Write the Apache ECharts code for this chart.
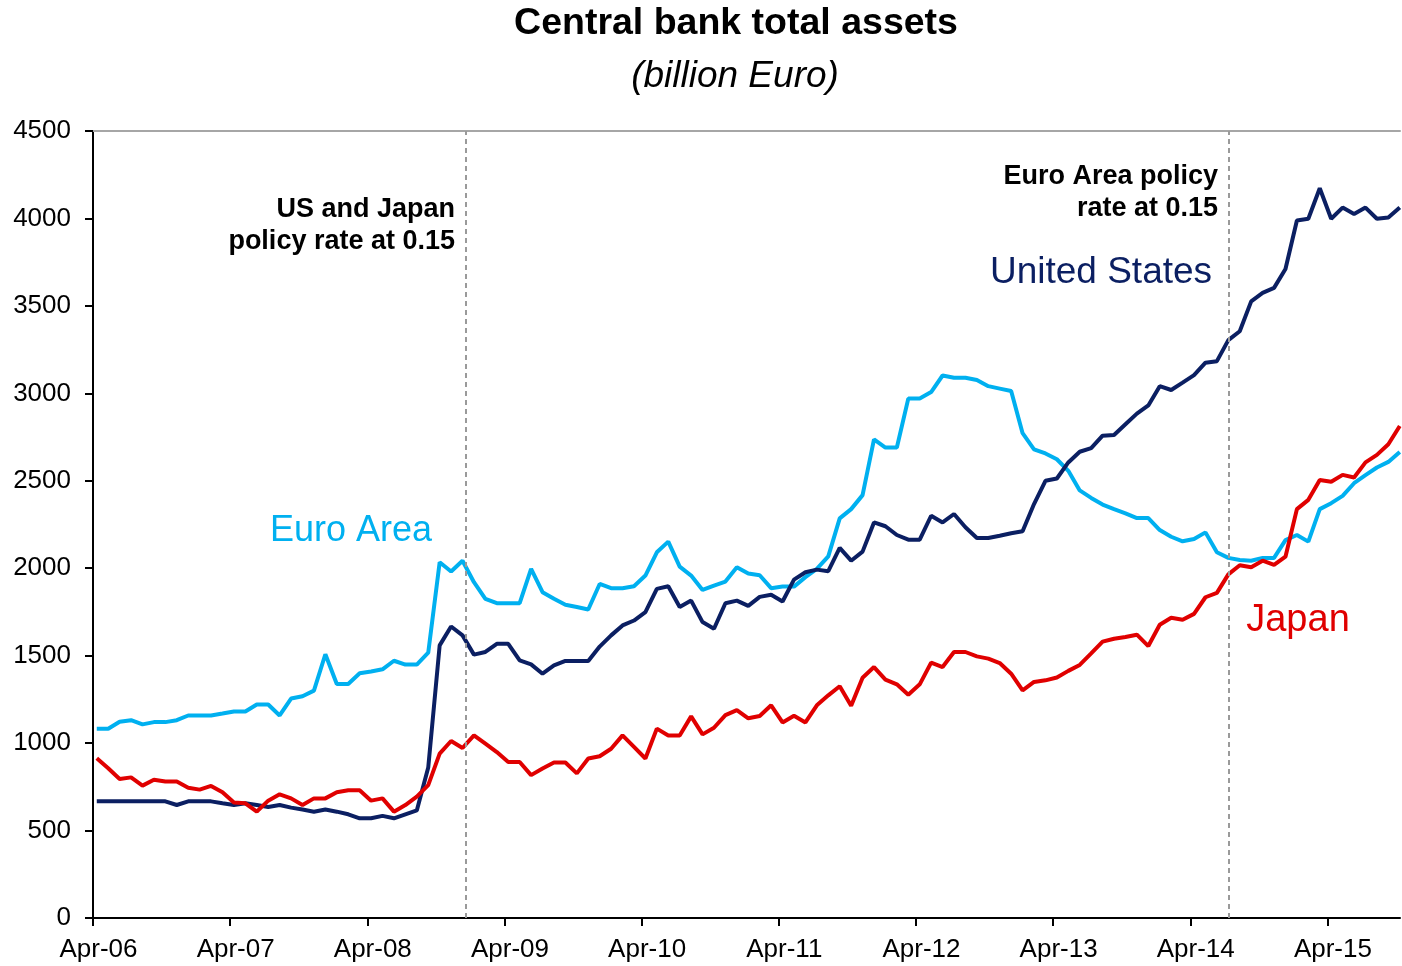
<!DOCTYPE html>
<html>
<head>
<meta charset="utf-8">
<title>Central bank total assets</title>
<script src="https://cdn.jsdelivr.net/npm/echarts@6/dist/echarts.min.js"></script>
<style>
  html, body { margin: 0; padding: 0; background: #ffffff; }
  #chart { width: 1402px; height: 966px; }
</style>
</head>
<body>
<div id="chart"></div>
<script>
// Monthly balance sheet totals, billion Euro, starting April 2006
const tickLabels = ['Apr-06', 'Apr-07', 'Apr-08', 'Apr-09', 'Apr-10', 'Apr-11', 'Apr-12', 'Apr-13', 'Apr-14', 'Apr-15'];

const euroArea = [
  1082, 1082, 1122, 1131, 1107, 1120, 1120, 1131, 1158, 1158,
  1158, 1169, 1181, 1181, 1221, 1221, 1158, 1255, 1268, 1300,
  1508, 1338, 1338, 1399, 1409, 1422, 1471, 1449, 1449, 1517,
  2034, 1981, 2043, 1920, 1825, 1800, 1800, 1800, 1996, 1863,
  1825, 1791, 1778, 1764, 1910, 1886, 1886, 1897, 1958, 2091,
  2152, 2009, 1958, 1876, 1901, 1924, 2006, 1970, 1960, 1886,
  1895, 1895, 1949, 1996, 2068, 2285, 2338, 2418, 2737, 2690,
  2690, 2970, 2970, 3007, 3102, 3089, 3089, 3076, 3041, 3027,
  3013, 2772, 2680, 2656, 2623, 2557, 2445, 2402, 2364, 2338,
  2314, 2287, 2287, 2218, 2180, 2154, 2167, 2205, 2091, 2059,
  2047, 2043, 2059, 2059, 2161, 2190, 2152, 2338, 2372, 2414,
  2486, 2532, 2576, 2608, 2665
];

const unitedStates = [
  667, 667, 667, 667, 667, 667, 667, 646, 667, 667,
  667, 656, 646, 656, 646, 635, 646, 631, 620, 608,
  620, 608, 593, 570, 570, 584, 570, 593, 615, 860,
  1559, 1667, 1616, 1506, 1521, 1568, 1568, 1473, 1450, 1397,
  1444, 1470, 1470, 1470, 1552, 1616, 1673, 1701, 1749, 1882,
  1897, 1778, 1815, 1692, 1654, 1800, 1815, 1785, 1836, 1848,
  1810, 1935, 1977, 1992, 1983, 2116, 2043, 2095, 2262, 2240,
  2190, 2163, 2163, 2300, 2262, 2310, 2234, 2173, 2173, 2186,
  2200, 2211, 2367, 2500, 2513, 2605, 2666, 2687, 2758, 2762,
  2823, 2884, 2931, 3041, 3019, 3061, 3104, 3175, 3184, 3304,
  3355, 3526, 3574, 3603, 3711, 3988, 3998, 4173, 3998, 4062,
  4025, 4062, 3998, 4005, 4062
];

const japan = [
  913, 856, 795, 804, 757, 791, 780, 780, 745, 734,
  755, 719, 660, 656, 608, 671, 707, 684, 646, 684,
  684, 719, 730, 730, 671, 684, 608, 646, 694, 760,
  940, 1012, 972, 1044, 997, 949, 892, 892, 817, 855,
  889, 889, 827, 912, 925, 968, 1044, 978, 912, 1083,
  1044, 1044, 1153, 1050, 1088, 1160, 1189, 1142, 1155, 1216,
  1118, 1156, 1118, 1216, 1273, 1325, 1213, 1374, 1435, 1363,
  1336, 1277, 1336, 1460, 1435, 1521, 1521, 1496, 1483, 1458,
  1397, 1302, 1350, 1359, 1375, 1413, 1447, 1513, 1580, 1597,
  1607, 1620, 1555, 1677, 1717, 1705, 1739, 1834, 1859, 1965,
  2017, 2006, 2043, 2019, 2066, 2338, 2391, 2504, 2494, 2534,
  2519, 2605, 2648, 2709, 2813
];

// Policy-rate events, in months since 1 April 2006
const usJapanZeroRate = 32.63;
const euroZeroRate = 99.39;

// Observations are taken about a third of the way into each month
const obsOffset = 0.33;
const axisEndMonth = 114.35;

const toPoints = (arr) => arr.map((v, i) => [i + obsOffset, v]);
const yearTicks = tickLabels.map((_, k) => k * 12);

const FONT = '"Liberation Sans", Arial, Helvetica, sans-serif';
const COLORS = { euro: '#00B0F0', us: '#0B1F62', japan: '#E00000' };
const LINE_W = 4;

const chart = echarts.init(document.getElementById('chart'), null, { renderer: 'canvas' });

chart.setOption({
  backgroundColor: '#ffffff',
  animation: false,
  grid: { left: 93, right: 2, top: 131, bottom: 48, containLabel: false },
  xAxis: [
    {
      type: 'value',
      min: 0,
      max: axisEndMonth,
      axisLine: { show: true, lineStyle: { color: '#000000', width: 2 } },
      axisTick: { show: true, inside: false, length: 8, customValues: yearTicks, lineStyle: { color: '#000000', width: 2 } },
      axisLabel: {
        show: true,
        customValues: yearTicks,
        formatter: (v) => tickLabels[Math.round(v / 12)] || '',
        color: '#000000',
        fontFamily: FONT,
        fontSize: 26,
        margin: 19,
        padding: [0, 0, 0, 11]
      },
      splitLine: { show: false }
    },
    {
      type: 'value',
      position: 'top',
      min: 0,
      max: axisEndMonth,
      axisLine: { show: true, lineStyle: { color: '#A6A6A6', width: 2 } },
      axisTick: { show: false },
      axisLabel: { show: false },
      splitLine: { show: false }
    }
  ],
  yAxis: {
    type: 'value',
    min: 0,
    max: 4500,
    interval: 500,
    axisLine: { show: true, lineStyle: { color: '#000000', width: 2 } },
    axisTick: { show: true, inside: false, length: 8, lineStyle: { color: '#000000', width: 2 } },
    axisLabel: { color: '#000000', fontFamily: FONT, fontSize: 26, margin: 22, formatter: (v) => String(v) },
    splitLine: { show: false }
  },
  series: [
    {
      name: 'Euro Area',
      type: 'line',
      data: toPoints(euroArea),
      showSymbol: false,
      lineStyle: { color: COLORS.euro, width: LINE_W },
      itemStyle: { color: COLORS.euro },
      z: 2
    },
    {
      name: 'United States',
      type: 'line',
      data: toPoints(unitedStates),
      showSymbol: false,
      lineStyle: { color: COLORS.us, width: LINE_W },
      itemStyle: { color: COLORS.us },
      z: 3,
      markLine: {
        silent: true,
        symbol: ['none', 'none'],
        label: { show: false },
        lineStyle: { color: '#9A9A9A', width: 2, type: [5, 4] },
        data: [{ xAxis: usJapanZeroRate }, { xAxis: euroZeroRate }]
      }
    },
    {
      name: 'Japan',
      type: 'line',
      data: toPoints(japan),
      showSymbol: false,
      lineStyle: { color: COLORS.japan, width: LINE_W },
      itemStyle: { color: COLORS.japan },
      z: 4
    }
  ],
  graphic: [
    {
      type: 'text', x: 736, y: 24,
      style: { text: 'Central bank total assets', fill: '#000000', font: 'bold 37.5px ' + FONT, textAlign: 'center', textVerticalAlign: 'middle' }
    },
    {
      type: 'text', x: 735, y: 77,
      style: { text: '(billion Euro)', fill: '#000000', font: 'italic 37px ' + FONT, textAlign: 'center', textVerticalAlign: 'middle' }
    },
    {
      type: 'text', x: 455, y: 226,
      style: { text: 'US and Japan\npolicy rate at 0.15', fill: '#000000', font: 'bold 27px ' + FONT, lineHeight: 32, textAlign: 'right', textVerticalAlign: 'middle' }
    },
    {
      type: 'text', x: 1218, y: 193,
      style: { text: 'Euro Area policy\nrate at 0.15', fill: '#000000', font: 'bold 27px ' + FONT, lineHeight: 32, textAlign: 'right', textVerticalAlign: 'middle' }
    },
    {
      type: 'text', x: 351, y: 531,
      style: { text: 'Euro Area', fill: COLORS.euro, font: '36px ' + FONT, textAlign: 'center', textVerticalAlign: 'middle' }
    },
    {
      type: 'text', x: 1101, y: 273,
      style: { text: 'United States', fill: COLORS.us, font: '37px ' + FONT, textAlign: 'center', textVerticalAlign: 'middle' }
    },
    {
      type: 'text', x: 1298, y: 621,
      style: { text: 'Japan', fill: COLORS.japan, font: '38px ' + FONT, textAlign: 'center', textVerticalAlign: 'middle' }
    }
  ]
});
</script>
</body>
</html>
